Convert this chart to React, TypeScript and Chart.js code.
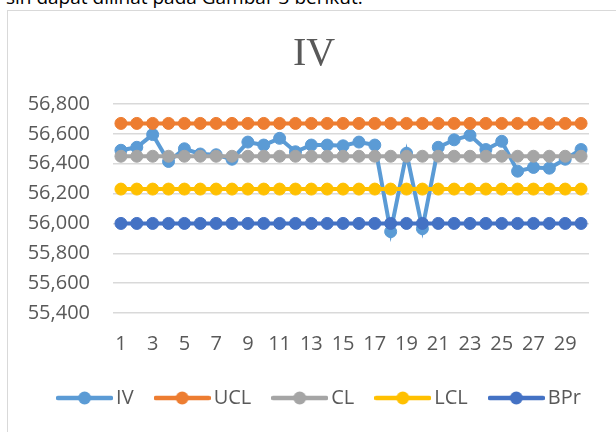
import React, { useEffect, useRef } from "react";
import { Chart, registerables } from "chart.js";

Chart.register(...registerables);

const categories = ["1","2","3","4","5","6","7","8","9","10","11","12","13","14","15","16","17","18","19","20","21","22","23","24","25","26","27","28","29","30"];

const ivValues = [56490, 56510, 56595, 56415, 56500, 56465, 56460, 56430, 56545, 56525, 56570, 56480, 56525, 56525, 56520, 56545, 56525, 55945, 56470, 55965, 56510, 56560, 56590, 56495, 56550, 56350, 56375, 56370, 56430, 56495];
const uclValues = [56670, 56670, 56670, 56670, 56670, 56670, 56670, 56670, 56670, 56670, 56670, 56670, 56670, 56670, 56670, 56670, 56670, 56670, 56670, 56670, 56670, 56670, 56670, 56670, 56670, 56670, 56670, 56670, 56670, 56670];
const clValues = [56450, 56450, 56450, 56450, 56450, 56450, 56450, 56450, 56450, 56450, 56450, 56450, 56450, 56450, 56450, 56450, 56450, 56450, 56450, 56450, 56450, 56450, 56450, 56450, 56450, 56450, 56450, 56450, 56450, 56450];
const lclValues = [56230, 56230, 56230, 56230, 56230, 56230, 56230, 56230, 56230, 56230, 56230, 56230, 56230, 56230, 56230, 56230, 56230, 56230, 56230, 56230, 56230, 56230, 56230, 56230, 56230, 56230, 56230, 56230, 56230, 56230];
const bprValues = [56000, 56000, 56000, 56000, 56000, 56000, 56000, 56000, 56000, 56000, 56000, 56000, 56000, 56000, 56000, 56000, 56000, 56000, 56000, 56000, 56000, 56000, 56000, 56000, 56000, 56000, 56000, 56000, 56000, 56000];

const seriesNames = ["IV", "UCL", "CL", "LCL", "BPr"];
const seriesColors = ["#5B9BD5", "#ED7D31", "#A5A5A5", "#FFC000", "#4472C4"];
const titleText = "IV";
const yMin = 55400;
const yMax = 56800;
const yStep = 200;

function legendIcon(color: string): HTMLCanvasElement {
  const c = document.createElement("canvas");
  c.width = 57;
  c.height = 14;
  const ctx = c.getContext("2d")!;
  ctx.strokeStyle = color;
  ctx.lineWidth = 4.5;
  ctx.lineCap = "round";
  ctx.beginPath();
  ctx.moveTo(2, 7);
  ctx.lineTo(55, 7);
  ctx.stroke();
  ctx.fillStyle = color;
  ctx.beginPath();
  ctx.arc(28.5, 7, 6.5, 0, Math.PI * 2);
  ctx.fill();
  return c;
}

const shiftBlocks = {
  id: "shiftBlocks",
  afterLayout(chart: any) {
    const t = chart.titleBlock;
    if (t) { t.left += 6; t.right += 6; }
    const l = chart.legend;
    if (l) { l.left += 14; l.right += 14; }
  },
};

export default function App() {
  const ref = useRef<HTMLCanvasElement | null>(null);

  useEffect(() => {
    if (!ref.current) return;
    const allValues = [ivValues, uclValues, clValues, lclValues, bprValues];
    const icons = seriesColors.map(legendIcon);
    const chart = new Chart(ref.current, {
      type: "line",
      data: {
        labels: categories,
        datasets: seriesNames.map((name, i) => ({
          label: name,
          data: allValues[i],
          borderColor: seriesColors[i],
          backgroundColor: seriesColors[i],
          pointBackgroundColor: seriesColors[i],
          pointBorderColor: seriesColors[i],
          borderWidth: 4,
          pointRadius: 6,
          pointBorderWidth: 1,
          tension: 0,
          order: 5 - i,
        })),
      },
      plugins: [shiftBlocks],
      options: {
        animation: false,
        responsive: false,
        maintainAspectRatio: false,
        layout: { padding: { left: 0, right: 0, top: 0, bottom: 14 } },
        plugins: {
          tooltip: { enabled: false },
          title: {
            display: true,
            text: titleText,
            color: "#595959",
            font: { family: "'Liberation Serif', 'Times New Roman', serif", size: 40, weight: "normal" },
            padding: { top: 30, bottom: 26 },
          },
          legend: {
            display: true,
            position: "bottom",
            labels: {
              color: "#595959",
              font: { family: "'Open Sans', sans-serif", size: 20 },
              usePointStyle: true,
              pointStyleWidth: 43,
              padding: 27,
              generateLabels: (ch: any) =>
                ch.data.datasets.map((ds: any, i: number) => ({
                  text: ds.label,
                  fillStyle: seriesColors[i],
                  strokeStyle: seriesColors[i],
                  lineWidth: 0,
                  pointStyle: icons[i],
                  hidden: false,
                  datasetIndex: i,
                  fontColor: "#595959",
                })),
            },
          },
        },
        scales: {
          x: {
            offset: true,
            grid: { display: false, drawTicks: false },
            border: { display: false },
            afterFit: (s: any) => { s.height = 48; },
            ticks: {
              color: "#595959",
              font: { family: "'Open Sans', sans-serif", size: 20 },
              autoSkip: false,
              maxRotation: 0,
              minRotation: 0,
              padding: 19,
              callback: (_v: any, idx: number) => (idx % 2 === 0 ? categories[idx] : ""),
            },
          },
          y: {
            min: yMin,
            max: yMax,
            grid: { color: "#d9d9d9", lineWidth: 1.5, drawTicks: false },
            border: { display: false },
            afterFit: (s: any) => { s.width = 113; },
            ticks: {
              stepSize: yStep,
              autoSkip: false,
              color: "#595959",
              font: { family: "'Open Sans', sans-serif", size: 20 },
              padding: 23,
              callback: (v: any) => Number(v).toLocaleString("en-US"),
            },
          },
          yRight: {
            position: "right",
            display: true,
            min: yMin,
            max: yMax,
            grid: { display: false, drawTicks: false },
            border: { display: false },
            ticks: { display: false },
            afterFit: (s: any) => { s.width = 27; },
          },
        },
      },
    });
    return () => chart.destroy();
  }, []);

  return (
    <div style={{ position: "fixed", left: 0, top: 0, width: 616, height: 432, overflow: "hidden", background: "#fff" }}>
      <div
        style={{
          position: "absolute",
          left: 6,
          top: -13,
          fontFamily: "'Open Sans', sans-serif",
          fontSize: 19,
          lineHeight: "20px",
          color: "#000",
          whiteSpace: "nowrap",
        }}
      >
        sih dapat dilihat pada Gambar 3 berikut.
      </div>
      <div
        style={{
          position: "absolute",
          left: 7,
          top: 10,
          width: 660,
          height: 460,
          border: "1px solid #d9d9d9",
          boxSizing: "border-box",
        }}
      />
      <canvas ref={ref} width={616} height={432} style={{ position: "absolute", left: 0, top: 0, width: 616, height: 432 }} />
    </div>
  );
}
